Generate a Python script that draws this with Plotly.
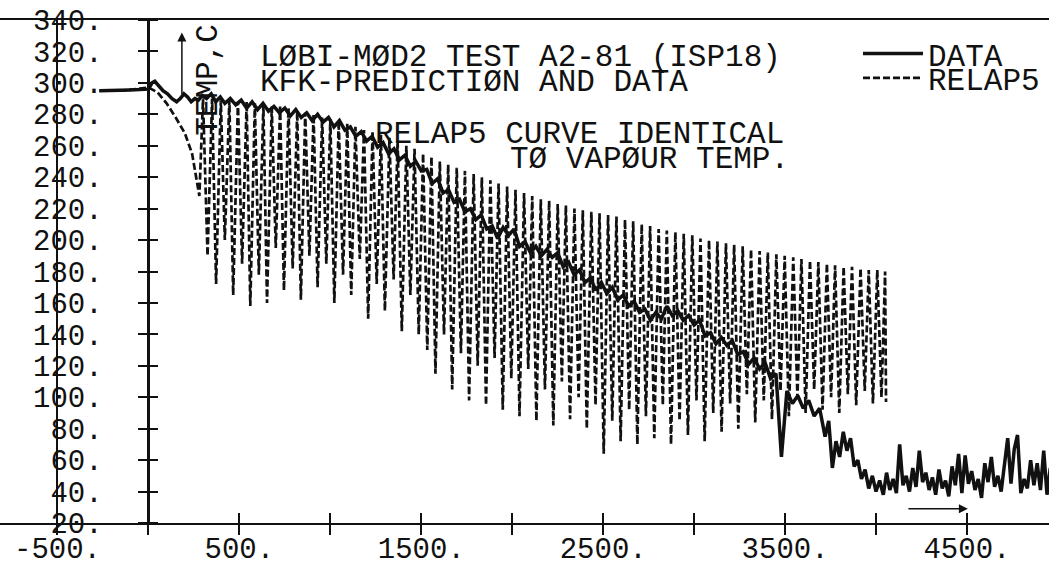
import plotly.graph_objects as go

# ---------------- data ----------------
relap_time = [-270, -150, 0, 50, 100, 150, 200, 240, 280, 300,
              325, 350, 372, 398, 420, 445, 466, 492, 515, 540,
              560, 585, 607, 632, 652, 678, 700, 724, 745, 770,
              793, 818, 838, 862, 885, 908, 930, 955, 978, 1000,
              1022, 1046, 1070, 1093, 1115, 1138, 1162, 1185, 1208, 1232,
              1255, 1278, 1300, 1325, 1348, 1370, 1393, 1418, 1440, 1463,
              1486, 1510, 1533, 1556, 1578, 1602, 1625, 1648, 1670, 1695,
              1718, 1740, 1763, 1788, 1810, 1833, 1856, 1880, 1903, 1925,
              1948, 1972, 1995, 2018, 2040, 2065, 2088, 2110, 2133, 2157,
              2180, 2203, 2226, 2250, 2273, 2295, 2318, 2342, 2365, 2388,
              2410, 2435, 2458, 2480, 2503, 2527, 2550, 2573, 2596, 2620,
              2643, 2665, 2688, 2712, 2735, 2758, 2781, 2805, 2828, 2850,
              2873, 2897, 2920, 2943, 2966, 2990, 3013, 3035, 3058, 3082,
              3105, 3128, 3151, 3175, 3198, 3220, 3243, 3267, 3290, 3313,
              3336, 3360, 3383, 3405, 3428, 3452, 3475, 3498, 3521, 3545,
              3568, 3590, 3613, 3637, 3660, 3683, 3706, 3730, 3753, 3775,
              3798, 3822, 3845, 3868, 3891, 3915, 3938, 3960, 3983, 4007,
              4030, 4050, 4055]
relap_temp = [295, 295, 297, 294, 287, 278, 268, 255, 228, 290,
              190, 290, 172, 289, 200, 289, 165, 288, 185, 288,
              158, 287, 178, 286, 160, 285, 195, 285, 168, 284,
              182, 282, 162, 281, 190, 280, 170, 278, 185, 277,
              160, 276, 178, 274, 165, 272, 188, 270, 150, 269,
              172, 267, 155, 265, 175, 263, 142, 260, 165, 258,
              140, 255, 130, 253, 115, 250, 140, 248, 105, 246,
              128, 244, 98, 242, 120, 240, 95, 238, 125, 236,
              92, 234, 112, 232, 88, 230, 118, 228, 85, 226,
              105, 225, 82, 223, 110, 222, 86, 220, 100, 219,
              80, 218, 95, 217, 64, 216, 85, 215, 72, 213,
              92, 212, 70, 210, 88, 209, 74, 207, 95, 206,
              70, 205, 85, 204, 76, 203, 98, 201, 72, 200,
              90, 199, 78, 198, 96, 197, 80, 196, 102, 194,
              84, 193, 98, 192, 86, 191, 104, 190, 88, 189,
              100, 188, 90, 187, 105, 186, 92, 185, 100, 184,
              90, 183, 102, 183, 95, 182, 104, 181, 96, 181,
              100, 180, 97]

data_time = [-270, -200, -100, 0, 20,
             35, 55, 80, 105, 130, 155, 175, 195, 215, 235,
             255, 275, 295, 320, 345, 370, 395, 420, 450, 480,
             510, 540, 570, 600, 630, 660, 690, 720, 750, 780,
             810, 840, 870, 900, 930, 960, 990, 1020, 1050, 1080,
             1110, 1140, 1170, 1200, 1230, 1260, 1290, 1320, 1350, 1380,
             1410, 1440, 1470, 1500, 1530, 1560, 1590, 1620, 1650, 1680,
             1710, 1740, 1770, 1800, 1830, 1860, 1890, 1920, 1950, 1980,
             2010, 2040, 2070, 2100, 2130, 2160, 2190, 2220, 2250, 2280,
             2310, 2340, 2370, 2400, 2430, 2460, 2490, 2520, 2550, 2580,
             2610, 2640, 2670, 2700, 2730, 2760, 2790, 2820, 2850, 2880,
             2910, 2940, 2970, 3000, 3030, 3060, 3090, 3120, 3150, 3180,
             3210, 3240, 3270, 3300, 3330, 3360, 3390, 3420, 3450, 3480,
             3510, 3540, 3570, 3600, 3630, 3660, 3690, 3720, 3740, 3760,
             3780, 3800, 3820, 3840, 3860, 3880, 3900, 3920, 3940, 3960,
             3980, 4000, 4020, 4040, 4058, 4076, 4094, 4112, 4130, 4148,
             4166, 4184, 4202, 4220, 4238, 4256, 4274, 4292, 4310, 4328,
             4346, 4364, 4382, 4400, 4418, 4436, 4454, 4472, 4490, 4508,
             4526, 4544, 4562, 4580, 4598, 4616, 4634, 4652, 4670, 4688,
             4706, 4724, 4742, 4760, 4778, 4796, 4814, 4832, 4850, 4868,
             4886, 4904, 4922, 4940, 4958]
data_temp = [295, 295, 295.5, 296, 300,
             301, 298, 295, 293, 290, 288, 290, 293, 291, 288,
             290, 289, 292, 290, 293, 288, 291, 287, 290, 286,
             289, 284, 288, 283, 287, 282, 285, 281, 284, 279,
             283, 278, 281, 276, 280, 275, 278, 272, 276, 270,
             272, 266, 269, 263, 266, 259, 262, 255, 258, 251,
             254, 247, 250, 244, 245, 236, 239, 230, 232, 224,
             226, 218, 220, 213, 216, 207, 209, 201, 208, 203,
             207, 196, 199, 192, 196, 190, 194, 189, 192, 183,
             186, 178, 181, 173, 176, 168, 173, 166, 170, 162,
             165, 158, 161, 154, 156, 149, 154, 150, 158, 152,
             155, 149, 152, 146, 149, 139, 141, 134, 138, 133,
             136, 127, 129, 121, 125, 118, 122, 112, 115, 62,
             104, 96, 101, 93, 98, 88, 93, 75, 85, 55,
             72, 62, 78, 66, 74, 56, 60, 48, 54, 42,
             50, 40, 47, 38, 52, 41, 48, 39, 70, 44,
             50, 40, 55, 43, 66, 46, 52, 41, 49, 38,
             54, 42, 47, 37, 56, 44, 64, 39, 63, 45,
             53, 41, 48, 36, 58, 46, 62, 43, 50, 40,
             56, 74, 45, 67, 76, 39, 48, 42, 60, 44,
             58, 41, 66, 38, 55]

x_tickvals = [-500, 0, 500, 1000, 1500, 2000, 2500, 3000, 3500, 4000, 4500]
x_ticktext = ["-500.", "", "500.", "", "1500.", "", "2500.", "", "3500.", "", "4500."]
y_tickvals = [20, 40, 60, 80, 100, 120, 140, 160, 180, 200, 220, 240, 260, 280, 300, 320, 340]
y_ticktext = ["20.", "40.", "60.", "80.", "100.", "120.", "140.", "160.", "180.", "200.",
              "220.", "240.", "260.", "280.", "300.", "320.", "340."]

# ---------------- styling ----------------
W, H = 1049, 572
FONT = "Liberation Mono"
INK = "#111111"
X_RANGE = [-816, 4951]
Y_RANGE = [20, 340]
Y_DOMAIN = [1 - 523 / H, 1 - 20 / H]
TICK_HALF = 10  # y ticks cross the axis line: 10 px on each side


def xpaper(xv):
    return (xv - X_RANGE[0]) / (X_RANGE[1] - X_RANGE[0])


def ypaper(yv):
    return Y_DOMAIN[0] + (yv - Y_RANGE[0]) / (Y_RANGE[1] - Y_RANGE[0]) * (Y_DOMAIN[1] - Y_DOMAIN[0])


fig = go.Figure()
fig.add_trace(go.Scatter(x=data_time, y=data_temp, mode="lines", name="DATA",
                         line=dict(color=INK, width=3.5), xaxis="x", yaxis="y",
                         legend="legend", hoverinfo="skip"))
fig.add_trace(go.Scatter(x=relap_time, y=relap_temp, mode="lines", name="RELAP5",
                         line=dict(color=INK, width=2.7, dash="7px,3px"),
                         xaxis="x2", yaxis="y2", legend="legend2", hoverinfo="skip"))

tickfont = dict(family=FONT, size=29, color=INK)
txtfont = dict(family=FONT, size=31, color=INK)

fig.update_layout(
    width=W, height=H,
    margin=dict(l=0, r=0, t=0, b=0, pad=0, autoexpand=False),
    paper_bgcolor="white", plot_bgcolor="white",
    showlegend=True,
    # bottom axis with labels and downward ticks; mirror gives the top frame,
    # zeroline gives the vertical axis line at x = 0
    xaxis=dict(range=X_RANGE, domain=[0, 1], anchor="y", showline=True,
               mirror=True, linecolor=INK, linewidth=2,
               ticks="outside", ticklen=10, tickwidth=2, tickcolor=INK,
               tickmode="array", tickvals=x_tickvals, ticktext=x_ticktext,
               tickfont=tickfont, showgrid=False,
               zeroline=True, zerolinecolor=INK, zerolinewidth=2.5,
               ticklabelstandoff=-12),
    # upward half of the x ticks
    xaxis2=dict(matches="x", overlaying="x", anchor="y2", showline=False,
                ticks="inside", ticklen=10, tickwidth=2, tickcolor=INK,
                tickmode="array", tickvals=x_tickvals, showticklabels=False,
                showgrid=False, zeroline=False),
    # left frame line at x = -500
    yaxis=dict(range=Y_RANGE, domain=Y_DOMAIN, anchor="free",
               position=xpaper(-500), showline=True, linecolor=INK,
               linewidth=1.5, ticks="", showticklabels=False,
               showgrid=False, zeroline=False),
    # tick marks crossing the x = 0 axis, with the labels
    yaxis2=dict(matches="y", overlaying="y", anchor="free",
                position=xpaper(0) + TICK_HALF / W, showline=False,
                ticks="outside", ticklen=2 * TICK_HALF, tickwidth=2,
                tickcolor=INK, tickmode="array", tickvals=y_tickvals,
                ticktext=y_ticktext, tickfont=tickfont, showgrid=False,
                zeroline=False, ticklabelstandoff=30),
    legend=dict(x=858 / W, y=ypaper(318.5), xanchor="left", yanchor="middle",
                font=txtfont, bgcolor="rgba(0,0,0,0)", itemwidth=60),
    legend2=dict(x=858 / W, y=ypaper(303), xanchor="left", yanchor="middle",
                 font=txtfont, bgcolor="rgba(0,0,0,0)", itemwidth=60),
)

annots = [
    ("LØBI-MØD2 TEST A2-81 (ISP18)", 602, 316),
    ("KFK-PREDICTIØN AND DATA", 602, 300.5),
    ("RELAP5 CURVE IDENTICAL", 1234, 267),
    ("TØ VAPØUR TEMP.", 1977, 251.5),
]
for text, xv, yv in annots:
    fig.add_annotation(text=text, x=xv, y=yv, xref="x", yref="y",
                       xanchor="left", yanchor="middle", showarrow=False,
                       font=txtfont)

# axis title (rotated)
fig.add_annotation(text="TEMP,C", x=333, y=302, xref="x", yref="y",
                   xanchor="center", yanchor="middle", showarrow=False,
                   textangle=-90, font=txtfont)

# arrows
fig.add_annotation(text="", x=184, y=332, xref="x", yref="y",
                   axref="x", ayref="y", ax=184, ay=292,
                   showarrow=True, arrowhead=2, arrowsize=1.2,
                   arrowwidth=1.5, arrowcolor=INK)
fig.add_annotation(text="", x=4505, y=29, xref="x", yref="y",
                   axref="x", ayref="y", ax=4170, ay=29,
                   showarrow=True, arrowhead=2, arrowsize=1.2,
                   arrowwidth=1.5, arrowcolor=INK)

fig.write_html("out.html")
